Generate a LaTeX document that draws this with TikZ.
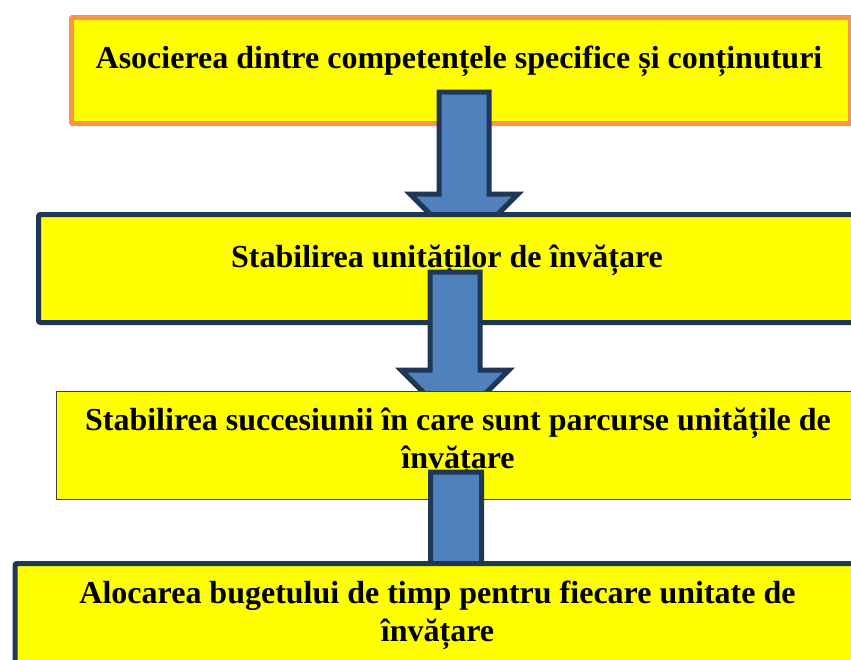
\documentclass[tikz,border=0pt]{standalone}
\usepackage{fontspec}
\setmainfont{Liberation Serif}
\definecolor{boxyellow}{RGB}{255,255,0}
\definecolor{orangeb}{RGB}{247,150,70}
\definecolor{navyb}{RGB}{31,54,84}
\definecolor{arrowblue}{RGB}{79,129,189}
\definecolor{thinb}{RGB}{64,64,64}
\tikzset{
  stepbox/.style={fill=boxyellow, draw=navyb, line width=5pt, rounded corners=2pt, anchor=north west, inner sep=0pt},
  blockarrow/.style={fill=arrowblue, draw=navyb, line width=5pt, line join=miter},
  txt/.style={font=\bfseries\fontsize{32}{38}\selectfont, align=center, inner sep=0pt, anchor=base}
}
\begin{document}
\begin{tikzpicture}[x=1pt,y=-1pt]
\useasboundingbox (0,0) rectangle (851,659);
\clip (0,0) rectangle (851,659);
% box 1
\node[stepbox, draw=orangeb, rounded corners=1pt, minimum width=779pt, minimum height=106pt] (b1) at (69,15) {};
\node[txt] (t1) at (459,68) {Asocierea dintre competențele specifice și conținuturi};
% arrow 1
\draw[blockarrow] (439,92) -- (489,92) -- (489,194) -- (518,194) -- (464,248) -- (410,194) -- (439,194) -- cycle;
% box 2
\node[stepbox, minimum width=822pt, minimum height=108pt] (b2) at (36,212) {};
\node[txt] (t2) at (447,267) {Stabilirea unităților de învățare};
% arrow 2
\draw[blockarrow] (430,272) -- (480,272) -- (480,370) -- (509,370) -- (455,424) -- (401,370) -- (430,370) -- cycle;
% box 3
\node[stepbox, draw=thinb, line width=1pt, rounded corners=0pt, minimum width=804pt, minimum height=108pt] (b3) at (56,391) {};
\node[txt] (t3) at (458,468) {Stabilirea succesiunii în care sunt parcurse unitățile de\\învățare};
% arrow 3
\draw[blockarrow] (430.5,472) -- (481.5,472) -- (481.5,620) -- (510,620) -- (456,674) -- (402,620) -- (430.5,620) -- cycle;
% box 4
\node[stepbox, minimum width=850pt, minimum height=150pt] (b4) at (12.5,561) {};
\node[txt] (t4) at (437.5,641) {Alocarea bugetului de timp pentru fiecare unitate de\\învățare};
\end{tikzpicture}
\end{document}
